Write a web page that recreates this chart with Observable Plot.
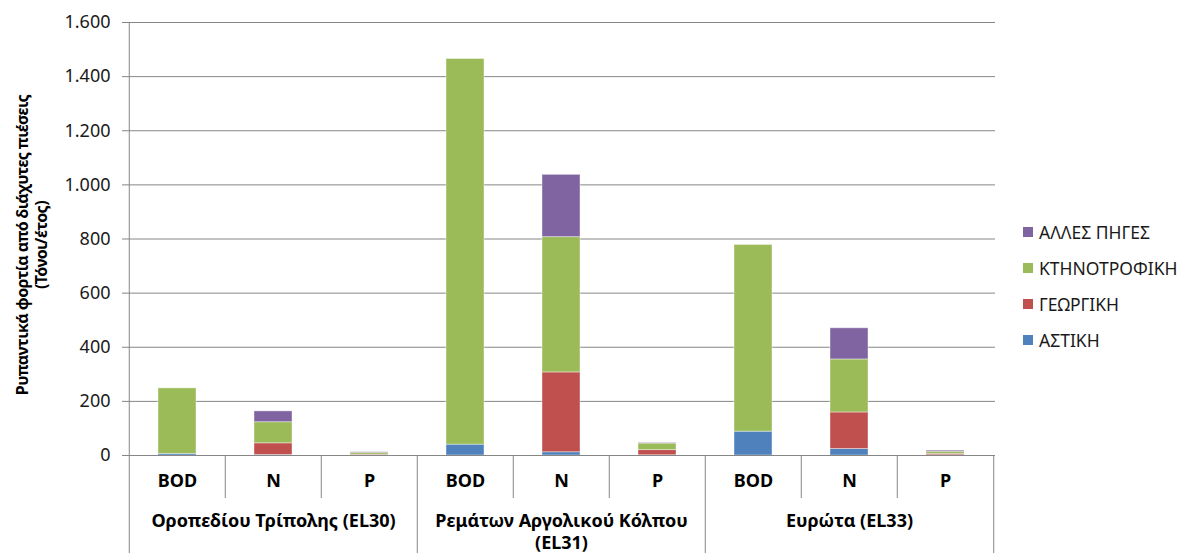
<!DOCTYPE html>
<html>
<head>
<meta charset="utf-8">
<script src="https://cdn.jsdelivr.net/npm/d3@7"></script>
<script src="https://cdn.jsdelivr.net/npm/@observablehq/plot@0.6"></script>
<style>
  body { margin: 0; background: #fff; }
  #chart { position: relative; width: 1177px; height: 553px; font-family: "Noto Sans", "Open Sans", sans-serif; }
  #chart svg g[aria-label*="y-axis"] line, #chart svg g[aria-label*="y-axis"] path { stroke: #868686; }
  .legend { position: absolute; left: 1023px; top: 222px; font-size: 17.5px; color: #1a1a1a; }
  .legend .item { display: flex; align-items: center; height: 20px; margin-bottom: 16px; }
  .legend .sw { width: 10px; height: 10px; margin-right: 6px; }
</style>
</head>
<body>
<div id="chart"></div>
<script>
// Diffuse pollutant loads per river basin (tonnes / year), stacked by source
const groups = ["Οροπεδίου Τρίπολης (EL30)", "Ρεμάτων Αργολικού Κόλπου (EL31)", "Ευρώτα (EL33)"];
const groupLabels = ["Οροπεδίου Τρίπολης (EL30)", "Ρεμάτων Αργολικού Κόλπου\n(EL31)", "Ευρώτα (EL33)"];
const params = ["BOD", "N", "P"];
const sources = ["ΑΣΤΙΚΗ", "ΓΕΩΡΓΙΚΗ", "ΚΤΗΝΟΤΡΟΦΙΚΗ", "ΑΛΛΕΣ ΠΗΓΕΣ"];
const colors = ["#4F81BD", "#C0504D", "#9BBB59", "#8064A2"];

// one value per bar: EL30 BOD, N, P, EL31 BOD, N, P, EL33 BOD, N, P
const astiki       = [6, 2, 1, 40, 12, 1, 88, 24, 1];
const georgiki     = [0, 43, 2, 0, 295, 19, 0, 135, 5];
const ktinotrofiki = [242, 78, 7, 1425, 500, 24, 690, 196, 8];
const alles        = [0, 40, 2, 0, 230, 2, 0, 115, 4];
const yTicks = [0, 200, 400, 600, 800, 1000, 1200, 1400, 1600];
const yTitle = "Ρυπαντικά φορτία από διάχυτες πιέσεις\n(Τόνοι/έτος)";

const series = [astiki, georgiki, ktinotrofiki, alles];
const keys = groups.flatMap(g => params.map(p => g + "|" + p));
const rows = [];
series.forEach((vals, si) => vals.forEach((v, i) => rows.push({key: keys[i], source: sources[si], value: v})));

const W = 1177, H = 553, ML = 127, MR = 182, MT = 22, MB = 98;
const bw = (W - ML - MR) / keys.length;
const fmt = d3.formatLocale({decimal: ",", thousands: ".", grouping: [3], currency: ["", ""]}).format(",d");

const edges = keys.map((k, i) => ({key: k, idx: i, zero: 0}));
const paramLabels = keys.map((k, i) => ({key: k, label: params[i % 3], zero: 0}));
const groupMid = groups.map((g, gi) => ({key: keys[gi * 3 + 1], label: groupLabels[gi], zero: 0}));
const axisGray = "#868686";

const chart = Plot.plot({
  width: W, height: H,
  marginLeft: ML, marginRight: MR, marginTop: MT, marginBottom: MB,
  style: {fontFamily: "\"Noto Sans\", \"Open Sans\", sans-serif", fontSize: "18px", color: "#1a1a1a", background: "#fff"},
  x: {domain: keys, padding: 0, axis: null},
  y: {domain: [0, 1600], ticks: yTicks, tickFormat: fmt, tickSize: 5, tickPadding: 12, label: null},
  color: {domain: sources, range: colors},
  marks: [
    Plot.ruleY(yTicks.slice(1), {stroke: axisGray}),
    Plot.barY(rows, Plot.stackY({order: sources, x: "key", y: "value", fill: "source", insetLeft: 29, insetRight: 29, stroke: "#fff", strokeOpacity: 0.4, strokeWidth: 1})),
    Plot.ruleY([0], {stroke: axisGray}),
    // value axis line
    Plot.ruleX([keys[0]], {x: d => d, dx: -bw / 2, stroke: axisGray}),
    // separators between parameters inside a basin
    Plot.ruleX(edges.filter(d => d.idx % 3 !== 0), {x: "key", y1: "zero", y2: "zero", dx: -bw / 2, insetBottom: -43, stroke: axisGray}),
    // separators between basins, plus the closing edge on the right
    Plot.ruleX(edges.filter(d => d.idx % 3 === 0), {x: "key", y1: "zero", y2: "zero", dx: -bw / 2, insetBottom: -98, stroke: axisGray}),
    Plot.ruleX(edges.slice(-1), {x: "key", y1: "zero", y2: "zero", dx: bw / 2, insetBottom: -98, stroke: axisGray}),
    Plot.text(paramLabels, {x: "key", y: "zero", text: "label", dy: 26, fontWeight: "bold", fontSize: 18, fill: "#000"}),
    Plot.text(groupMid, {x: "key", y: "zero", text: "label", dy: 56, lineAnchor: "top", lineHeight: 1.22, fontWeight: "bold", fontSize: 18, fill: "#000"}),
    Plot.text([yTitle], {frameAnchor: "left", textAnchor: "middle", rotate: -90, dx: -96, dy: 6, lineHeight: 1.15, fontWeight: "bold", fontSize: 16, fill: "#000"})
  ]
});
const root = document.getElementById("chart");
root.appendChild(chart);

// tighten the value-axis title a little
chart.querySelectorAll("text").forEach(t => {
  if (t.textContent.startsWith("Ρυπαντικά")) t.setAttribute("letter-spacing", "-0.6");
});

// legend, top entry is the top of each stack
const legend = document.createElement("div");
legend.className = "legend";
sources.slice().reverse().forEach(s => {
  const item = document.createElement("div");
  item.className = "item";
  const sw = document.createElement("span");
  sw.className = "sw";
  sw.style.background = colors[sources.indexOf(s)];
  const t = document.createElement("span");
  t.textContent = s;
  item.appendChild(sw); item.appendChild(t);
  legend.appendChild(item);
});
root.appendChild(legend);
</script>
</body>
</html>
